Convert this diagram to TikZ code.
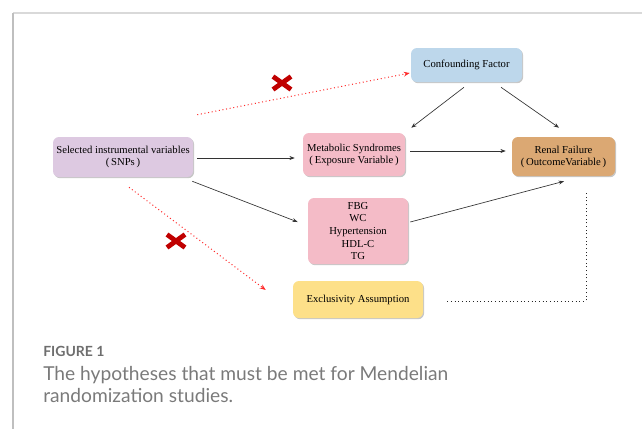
\documentclass[tikz,border=0pt]{standalone}
\usepackage{fontspec}
\setmainfont{Liberation Serif}
\newfontfamily\capfont{Lato}
\usetikzlibrary{arrows.meta,calc,shadows}
\definecolor{cSel}{HTML}{DDC9E1}
\definecolor{cMet}{HTML}{F4BBC7}
\definecolor{cRen}{HTML}{DBA873}
\definecolor{cConf}{HTML}{BDD7EB}
\definecolor{cExc}{HTML}{FDE089}
\definecolor{cX}{HTML}{C00000}
\definecolor{cRed}{HTML}{FF2A2A}
\definecolor{cCap}{HTML}{7A7A7A}
\definecolor{cCapB}{HTML}{6E6E6E}
\begin{document}
\begin{tikzpicture}[x=0.75pt,y=-0.75pt,
  box/.style={draw=none, rounded corners=4.5pt, align=center, inner sep=0pt,
    font=\fontsize{8}{9}\selectfont,
    drop shadow={shadow xshift=0.8pt,shadow yshift=-0.9pt,fill=black,opacity=0.22}},
  arr/.style={draw=black!80, line width=0.5pt, -{Stealth[length=4pt,width=3pt]}},
  redarr/.style={draw=cRed, line width=0.75pt, dotted, -{Stealth[length=4.5pt,width=3.5pt]}},
  blkdot/.style={draw=black!85, line width=0.75pt, dotted},
  xmark/.style={draw=cX, line width=3.6pt},
  frameline/.style={line width=1pt}]
\useasboundingbox (0,0) rectangle (642,429);
% frame
\draw[frameline, draw=black!15] (13,13) -- (642,13);
\draw[frameline, draw=black!25] (13,13) -- (13,429);

% nodes
\node[box, fill=cSel, minimum width=105pt, minimum height=30pt] (sel) at (123,157)
  {Selected instrumental variables\\(\,SNPs\,)};
\node[box, fill=cMet, minimum width=76.5pt, minimum height=32.25pt] (met) at (354,154.5)
  {Metabolic Syndromes\\(\,Exposure Variable\,)};
\node[box, fill=cMet, minimum width=75pt, minimum height=49.5pt, font=\fontsize{8}{9.4}\selectfont] (fbg) at (358,231)
  {FBG\\WC\\Hypertension\\HDL-C\\TG};
\node[box, fill=cRen, minimum width=77.25pt, minimum height=29.25pt] (ren) at (563.5,156.5)
  {Renal Failure\\(\,OutcomeVariable\,)};
\node[box, fill=cConf, minimum width=83.25pt, minimum height=25.5pt] (conf) at (466.5,65)
  {Confounding Factor};
\node[box, fill=cExc, minimum width=97.5pt, minimum height=27.75pt] (exc) at (358,299.5)
  {Exclusivity Assumption};

% connectors
\draw[arr] ($(sel.east)+(4,1)$) -- ($(met.west)+(-8,3.5)$);
\draw[arr] ($(sel.south east)+(-1,4)$) -- ($(fbg.west)+(-10,-9)$);
\draw[arr] ($(met.east)+(5,-3.5)$) -- ($(ren.west)+(-6,-5.5)$);
\draw[arr] ($(fbg.east)+(2,-9)$) -- ($(ren.south)+(0.5,5)$);
\draw[arr] ($(conf.south)+(-2.5,5)$) -- ($(met.north east)+(6,-5)$);
\draw[arr] ($(conf.south)+(34.5,5)$) -- ($(ren.north)+(-4.5,-9)$);
\draw[redarr] ($(sel.north east)+(4,-22)$) -- ($(conf.west)+(-1,8)$);
\draw[redarr] ($(sel.south)+(6,10)$) -- ($(exc.west)+(-27,-9.5)$);
\draw[blkdot] ($(exc.east)+(24,1.5)$) -| ($(ren.south)+(22.5,17)$);

% red crosses
\coordinate (x1) at (282,83);
\coordinate (x2) at (176,241);
\foreach \c in {x1,x2}{
  \draw[xmark] ($(\c)+(-9,-6.5)$) -- ($(\c)+(9,6.5)$);
  \draw[xmark] ($(\c)+(-9,6.5)$) -- ($(\c)+(9,-6.5)$);
}

% caption
\node[anchor=base west, inner sep=0pt, text=cCapB, font=\capfont\bfseries\fontsize{10.5}{12}\selectfont] (figlab) at (43,356) {FIGURE 1};
\node[anchor=base west, inner sep=0pt, text=cCap, font=\capfont\fontsize{14.4}{17}\selectfont] (cap1) at (43,380) {The hypotheses that must be met for Mendelian};
\node[anchor=base west, inner sep=0pt, text=cCap, font=\capfont\fontsize{14.4}{17}\selectfont] (cap2) at (43,402) {randomization studies.};
\end{tikzpicture}
\end{document}
